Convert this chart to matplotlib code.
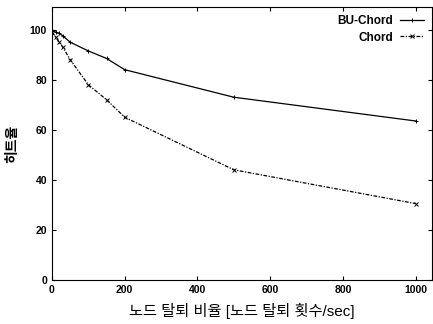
import matplotlib
matplotlib.use("Agg")
import matplotlib.pyplot as plt

plt.rcParams['font.family'] = ['Liberation Sans', 'Noto Sans CJK KR', 'DejaVu Sans']

# node leave rate vs hit rate
x_vals = [0, 10, 20, 30, 50, 100, 150, 200, 500, 1000]
bu_chord = [100, 99, 98.5, 97.5, 95, 91.5, 88.5, 84, 73, 63.5]
chord = [99, 97, 95, 93, 88, 78, 72, 65, 44, 30.5]

fig = plt.figure(figsize=(4.33, 3.24), dpi=100)
ax = fig.add_axes([0.12, 0.136, 0.878, 0.842])

ax.plot(x_vals, bu_chord, color='black', lw=0.9, marker='+', ms=3, mew=0.7, label='BU-Chord')
ax.plot(x_vals, chord, color='black', lw=0.9, ls=(0, (3, 1.2, 1, 1.2)), marker='x', ms=2.5, mew=0.7, label='Chord')

ax.set_xlim(0, 1045)
ax.set_ylim(0, 109)
ax.set_xticks([0, 200, 400, 600, 800, 1000])
ax.set_yticks([0, 20, 40, 60, 80, 100])
ax.tick_params(direction='in', top=True, right=True, length=3, labelsize=7.5, width=0.8)
for lbl in ax.get_xticklabels() + ax.get_yticklabels():
    lbl.set_fontweight('bold')

ax.set_xlabel('노드 탈퇴 비율 [노드 탈퇴 횟수/sec]', fontsize=11, labelpad=6)
ax.set_ylabel('히트율', fontsize=10, fontweight='bold', labelpad=8)

leg = ax.legend(loc='upper right', frameon=False, markerfirst=False, fontsize=8.5,
                handlelength=2.0, borderaxespad=0.3, labelspacing=0.35, handletextpad=0.6)
for t in leg.get_texts():
    t.set_fontweight('bold')

fig.savefig('out.png', dpi=100)
